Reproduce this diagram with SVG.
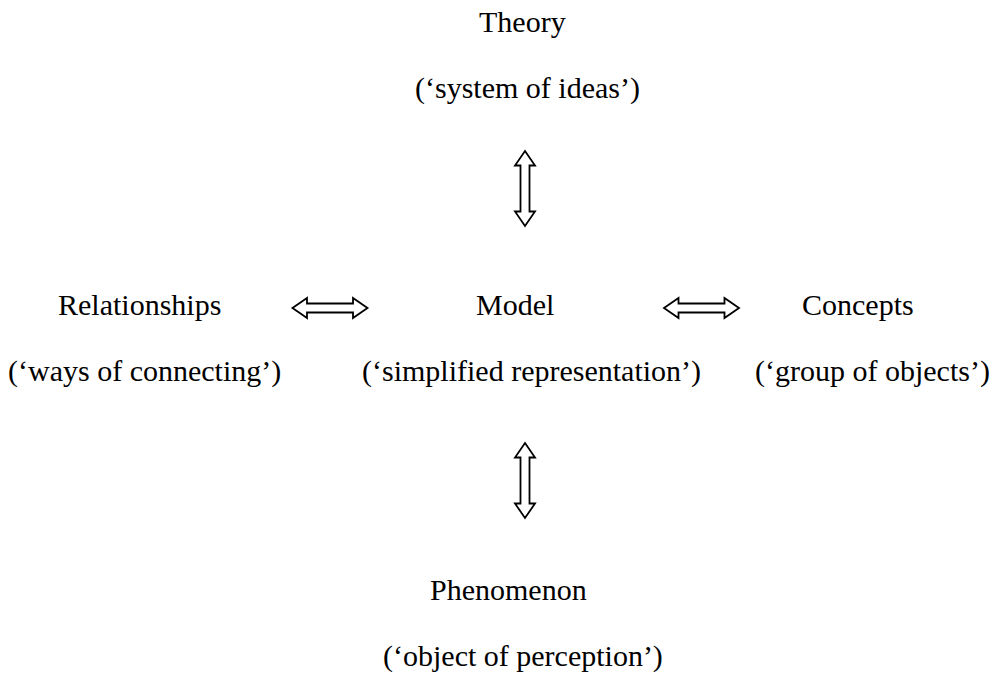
<svg xmlns="http://www.w3.org/2000/svg" xmlns:xlink="http://www.w3.org/1999/xlink" width="999" height="682" viewBox="0 0 999 682">
<style>
text { font-family: "Liberation Serif", "Times New Roman", serif; font-size: 30px; fill: #000; }
.arrow { fill: #fff; stroke: #000; stroke-width: 1.8; stroke-linejoin: miter; }
</style>
<defs>
<path id="dbl" class="arrow" d="M-37.5,0 L-23,-10 L-23,-4.5 L23,-4.5 L23,-10 L37.5,0 L23,10 L23,4.5 L-23,4.5 L-23,10 Z"/>
</defs>
<rect width="999" height="682" fill="#fff"/>
<g id="connectors">
<use xlink:href="#dbl" href="#dbl" transform="translate(525,188.5) rotate(90)"/>
<use xlink:href="#dbl" href="#dbl" transform="translate(330,308)"/>
<use xlink:href="#dbl" href="#dbl" transform="translate(701.5,308)"/>
<use xlink:href="#dbl" href="#dbl" transform="translate(525,480.5) rotate(90)"/>
</g>
<g id="theory">
<text x="479" y="32">Theory</text>
<text x="415" y="98">(‘system of ideas’)</text>
</g>
<g id="relationships">
<text x="58" y="315">Relationships</text>
<text x="8" y="381">(‘ways of connecting’)</text>
</g>
<g id="model">
<text x="476" y="315">Model</text>
<text x="362" y="381">(‘simplified representation’)</text>
</g>
<g id="concepts">
<text x="802" y="315">Concepts</text>
<text x="755" y="381">(‘group of objects’)</text>
</g>
<g id="phenomenon">
<text x="430" y="600">Phenomenon</text>
<text x="383" y="666">(‘object of perception’)</text>
</g>
</svg>
